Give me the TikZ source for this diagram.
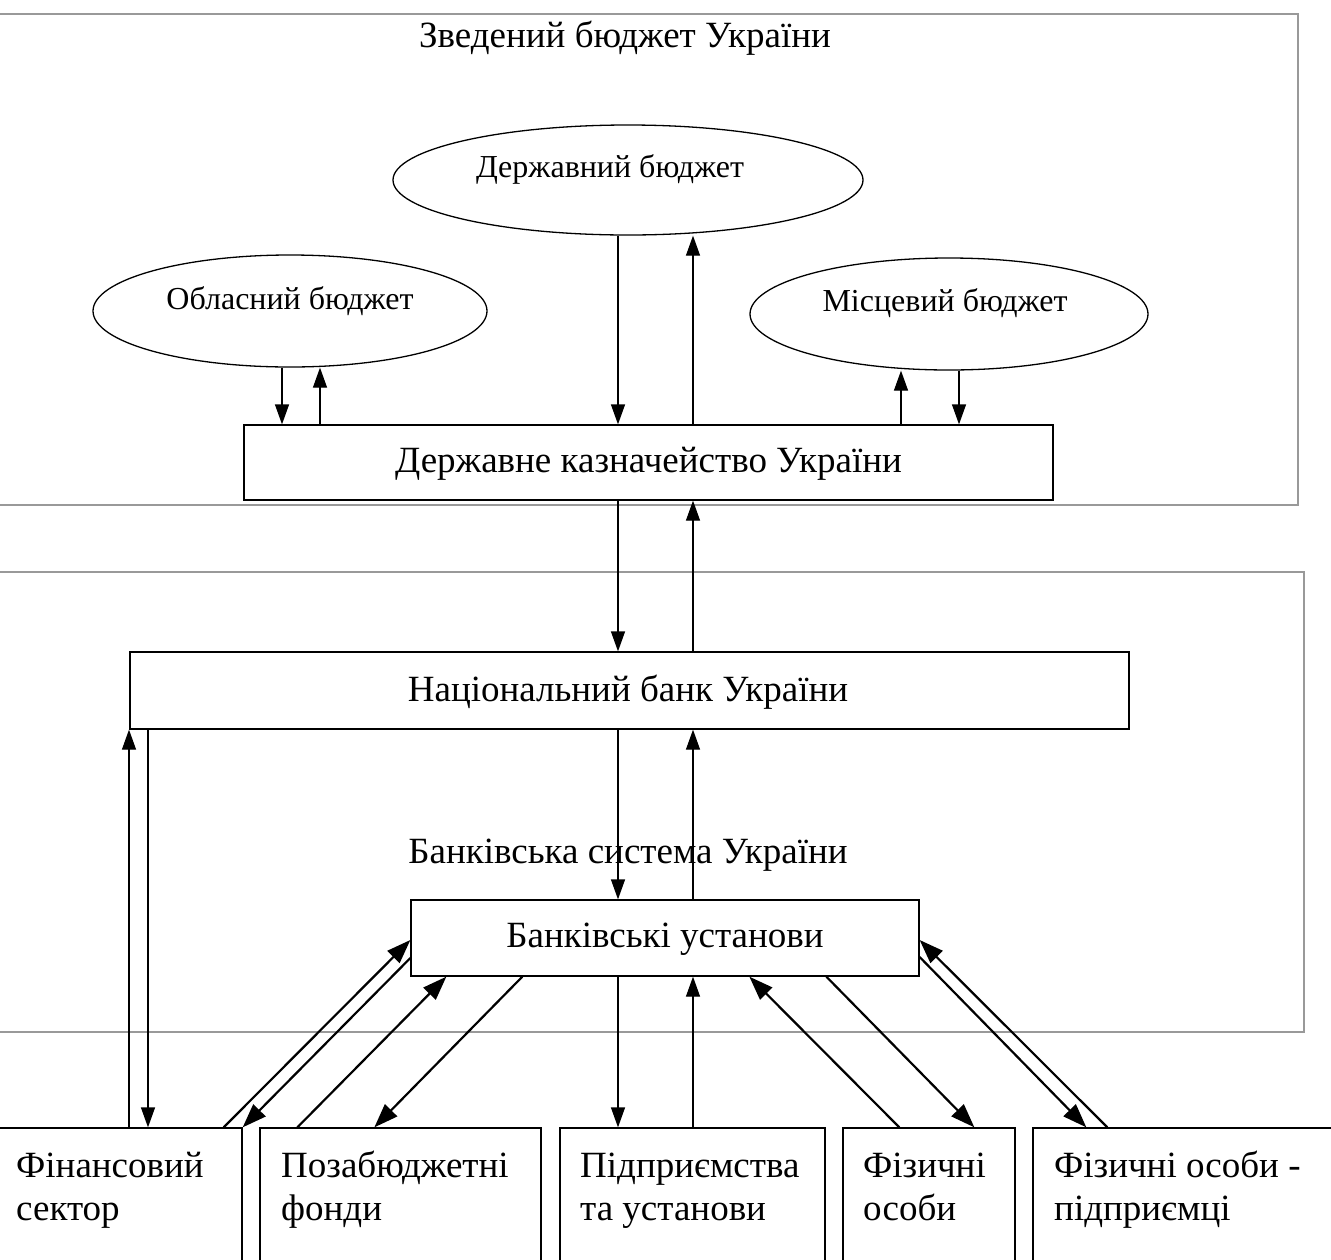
\documentclass[tikz,border=0pt]{standalone}
\usepackage{fontspec}
\setmainfont{Liberation Serif}
\usetikzlibrary{arrows.meta,calc,shapes.geometric}
\begin{document}
\begin{tikzpicture}[x=1pt,y=-1pt,
  frame/.style={draw=black!40, line width=1.2pt},
  ellbox/.style={ellipse, draw, line width=1.3pt, inner sep=0pt},
  rbox/.style={rectangle, draw, line width=1.3pt, inner sep=0pt},
  arr/.style={line width=1.3pt, -{Triangle[length=20pt,width=14pt]}},
  darr/.style={line width=2.2pt, -{Triangle[length=24pt,width=17pt]}},
  lbl/.style={font=\fontsize{37}{44}\selectfont, inner sep=0pt},
  elbl/.style={font=\fontsize{32}{38}\selectfont, inner sep=0pt},
  blbl/.style={font=\fontsize{37}{43}\selectfont, anchor=base west, inner sep=0pt},
]
\clip (0,0) rectangle (1331,1259);
\fill[white] (0,0) rectangle (1331,1259);
% frames
\draw[frame] (-10,14) rectangle (1298,505);
\draw[frame] (-10,572) rectangle (1304,1032);
\node[lbl] (tz) at (625,38) {Зведений бюджет України};
\node[lbl] (tb) at (628,855) {Банківська система України};
% ellipses
\node[ellbox, minimum width=470pt, minimum height=110pt] (db) at (628,180) {};
\node[elbl] (tdb) at (610,169) {Державний бюджет};
\node[ellbox, minimum width=394pt, minimum height=112pt] (ob) at (290,311) {};
\node[elbl] (tob) at (290,301) {Обласний бюджет};
\node[ellbox, minimum width=398pt, minimum height=112pt] (mb) at (949,314) {};
\node[elbl] (tmb) at (945,303) {Місцевий бюджет};
% boxes
\node[rbox, minimum width=809pt, minimum height=75pt] (kz) at (648.5,462.5) {};
\node[lbl] (tkz) at (648.5,464) {Державне казначейство України};
\node[rbox, minimum width=999pt, minimum height=77pt] (nbu) at (629.5,690.5) {};
\node[lbl] (tnbu) at (628,692) {Національний банк України};
\node[rbox, minimum width=508pt, minimum height=76pt] (bu) at (665,938) {};
\node[lbl] (tbu) at (665,939) {Банківські установи};
\node[rbox, minimum width=252pt, minimum height=172pt] (fin) at (116,1214) {};
\node[rbox, minimum width=281pt, minimum height=172pt] (poz) at (400.5,1214) {};
\node[rbox, minimum width=265pt, minimum height=172pt] (pid) at (692.5,1214) {};
\node[rbox, minimum width=172pt, minimum height=172pt] (fiz) at (929,1214) {};
\node[rbox, minimum width=312pt, minimum height=172pt] (fop) at (1189,1214) {};
\node[blbl] (t1a) at (16,1177) {Фінансовий};
\node[blbl] (t1b) at (16,1220) {сектор};
\node[blbl] (t2a) at (281,1177) {Позабюджетні};
\node[blbl] (t2b) at (281,1220) {фонди};
\node[blbl] (t3a) at (580,1177) {Підприємства};
\node[blbl] (t3b) at (580,1220) {та установи};
\node[blbl] (t4a) at (863,1177) {Фізичні};
\node[blbl] (t4b) at (863,1220) {особи};
\node[blbl] (t5a) at (1054,1177) {Фізичні особи -};
\node[blbl] (t5b) at (1054,1220) {підприємці};
% x positions of vertical connectors
\coordinate (xa) at (282,0);
\coordinate (xb) at (320,0);
\coordinate (xc) at (618,0);
\coordinate (xd) at (693,0);
\coordinate (xe) at (901,0);
\coordinate (xf) at (959,0);
\coordinate (xg) at (129,0);
\coordinate (xh) at (148,0);
% budgets <-> treasury
\draw[arr] (xa |- ob.south) -- (xa |- kz.north);
\draw[arr] (xb |- kz.north) -- (xb |- ob.south);
\draw[arr] (xc |- db.south) -- (xc |- kz.north);
\draw[arr] (xd |- kz.north) -- (xd |- db.south);
\draw[arr] (xe |- kz.north) -- (xe |- mb.south);
\draw[arr] (xf |- mb.south) -- (xf |- kz.north);
% treasury <-> NBU
\draw[arr] (xc |- kz.south) -- (xc |- nbu.north);
\draw[arr] (xd |- nbu.north) -- (xd |- kz.south);
% NBU <-> banks
\draw[arr] (xc |- nbu.south) -- (xc |- bu.north);
\draw[arr] (xd |- bu.north) -- (xd |- nbu.south);
% NBU <-> financial sector
\draw[arr] (xg |- fin.north) -- (xg |- nbu.south);
\draw[arr] (xh |- nbu.south) -- (xh |- fin.north);
% banks <-> enterprises
\draw[arr] (xc |- bu.south) -- (xc |- pid.north);
\draw[arr] (xd |- pid.north) -- (xd |- bu.south);
% diagonal connectors
\draw[darr] ($(fin.north east)+(-19,0)$) -- ($(bu.west)+(0,2)$);
\draw[darr] ($(bu.west)+(0,20)$) -- (fin.north east);
\draw[darr] ($(poz.north west)+(38,0)$) -- ($(bu.south west)+(36,0)$);
\draw[darr] ($(bu.south west)+(112,0)$) -- ($(poz.north west)+(115,0)$);
\draw[darr] ($(fiz.north west)+(57,0)$) -- ($(bu.south west)+(339,0)$);
\draw[darr] ($(bu.south west)+(416,0)$) -- ($(fiz.north west)+(132,0)$);
\draw[darr] ($(fop.north west)+(75,0)$) -- ($(bu.east)+(0,2)$);
\draw[darr] ($(bu.east)+(0,19)$) -- ($(fop.north west)+(54,0)$);
\end{tikzpicture}
\end{document}
